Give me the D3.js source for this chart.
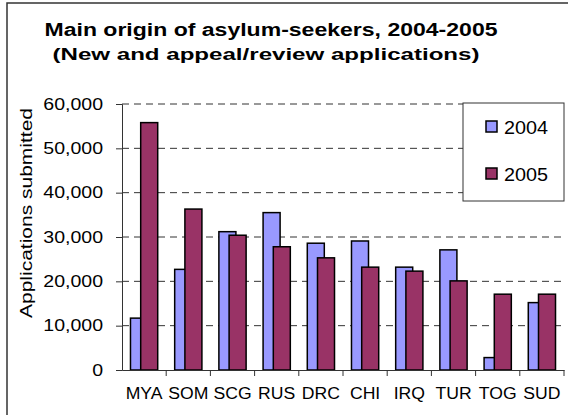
<!DOCTYPE html>
<html lang="en">
<head>
  <meta charset="utf-8" />
  <title>Main origin of asylum-seekers</title>
  <script src="https://cdn.jsdelivr.net/npm/d3@7/dist/d3.min.js"></script>
  <style>
    body { margin: 0; background: #fff; }
    text { font-family: "Liberation Sans", Arial, sans-serif; fill: #000; }
  </style>
</head>
<body>
  <script>
    // data
    var countries = ["MYA", "SOM", "SCG", "RUS", "DRC", "CHI", "IRQ", "TUR", "TOG", "SUD"];
    var years = ["2004", "2005"];
    var apps2004 = [11700, 22700, 31200, 35500, 28600, 29100, 23200, 27100, 2800, 15200];
    var apps2005 = [55800, 36300, 30400, 27800, 25300, 23200, 22300, 20100, 17100, 17100];
    var yTicks = [0, 10000, 20000, 30000, 40000, 50000, 60000];
    var colors = ["#9999ff", "#993366"];

    var width = 568, height = 415;
    var plotL = 122, plotR = 564, plotT = 104, plotB = 370;

    // excel draws its text wider than the browser does
    function widen(sel, f) {
      sel.each(function () {
        var w = this.getComputedTextLength();
        d3.select(this).attr("textLength", w * f).attr("lengthAdjust", "spacingAndGlyphs");
      });
    }

    var svg = d3.select("body").append("svg")
      .attr("width", width)
      .attr("height", height);

    // outer chart border (right/bottom run off the picture)
    svg.append("rect")
      .attr("x", 7).attr("y", 3)
      .attr("width", 600).attr("height", 450)
      .attr("fill", "none")
      .attr("stroke", "#333")
      .attr("stroke-width", 1.5);

    svg.append("text")
      .attr("x", 271).attr("y", 36)
      .attr("text-anchor", "middle")
      .attr("font-size", 18).attr("font-weight", "bold")
      .attr("textLength", 453).attr("lengthAdjust", "spacingAndGlyphs")
      .text("Main origin of asylum-seekers, 2004-2005");
    svg.append("text")
      .attr("x", 266).attr("y", 60)
      .attr("text-anchor", "middle")
      .attr("font-size", 16).attr("font-weight", "bold")
      .attr("textLength", 427).attr("lengthAdjust", "spacingAndGlyphs")
      .text("(New and appeal/review applications)");

    var x = d3.scaleBand().domain(countries).range([plotL, plotR]);
    var y = d3.scaleLinear().domain([0, 60000]).range([plotB, plotT]);

    // dashed gridlines
    svg.append("g")
      .selectAll("line")
      .data(yTicks.filter(function (d) { return d > 0; }))
      .enter()
      .append("line")
      .attr("x1", plotL).attr("x2", plotR)
      .attr("y1", function (d) { return y(d); })
      .attr("y2", function (d) { return y(d); })
      .attr("stroke", "#333")
      .attr("stroke-dasharray", "7,5");

    // bars, 2005 overlapping 2004
    var bw = x.bandwidth();
    var barW = bw * 0.385;
    var shift = barW * 0.6;
    var start = (bw - barW - shift) / 2;
    [apps2004, apps2005].forEach(function (vals, k) {
      svg.append("g")
        .selectAll("rect")
        .data(vals)
        .enter()
        .append("rect")
        .attr("x", function (d, i) { return x(countries[i]) + start + k * shift; })
        .attr("y", function (d) { return y(d); })
        .attr("width", barW)
        .attr("height", function (d) { return plotB - y(d); })
        .attr("fill", colors[k])
        .attr("stroke", "#000")
        .attr("stroke-width", 1.5);
    });

    // y axis
    var yAxis = d3.axisLeft(y).tickValues(yTicks).tickSize(6).tickPadding(13)
      .tickFormat(d3.format(","));
    var gy = svg.append("g")
      .attr("transform", "translate(" + plotL + ",0)")
      .call(yAxis);
    gy.select(".domain").attr("stroke", "#333");
    gy.selectAll(".tick line").attr("stroke", "#333");
    gy.selectAll("text").attr("font-size", 16).attr("font-family", null);
    widen(gy.selectAll("text"), 1.22);

    // x axis
    var xAxis = d3.axisBottom(x).tickSize(0).tickPadding(18);
    var gx = svg.append("g")
      .attr("transform", "translate(0," + plotB + ")")
      .call(xAxis);
    gx.select(".domain").attr("stroke", "#333");
    gx.selectAll("text").attr("font-size", 16).attr("font-family", null);
    widen(gx.selectAll("text"), 1.1);
    svg.append("g")
      .selectAll("line")
      .data(countries)
      .enter()
      .append("line")
      .attr("x1", function (d) { return x(d) + bw; })
      .attr("x2", function (d) { return x(d) + bw; })
      .attr("y1", plotB).attr("y2", plotB + 6)
      .attr("stroke", "#333");

    svg.append("text")
      .attr("transform", "translate(31.5,213) rotate(-90)")
      .attr("text-anchor", "middle")
      .attr("font-size", 16)
      .attr("textLength", 210).attr("lengthAdjust", "spacingAndGlyphs")
      .text("Applications submitted");

    // legend
    var lg = svg.append("g");
    lg.append("rect")
      .attr("x", 463).attr("y", 103)
      .attr("width", 101).attr("height", 98)
      .attr("fill", "#fff")
      .attr("stroke", "#333");
    years.forEach(function (yr, k) {
      lg.append("rect")
        .attr("x", 486).attr("y", 121 + k * 47)
        .attr("width", 11).attr("height", 11)
        .attr("fill", colors[k])
        .attr("stroke", "#000")
        .attr("stroke-width", 1.5);
      lg.append("text")
        .attr("x", 504).attr("y", 134 + k * 47)
        .attr("font-size", 19)
        .attr("textLength", 44).attr("lengthAdjust", "spacingAndGlyphs")
        .text(yr);
    });
  </script>
</body>
</html>
